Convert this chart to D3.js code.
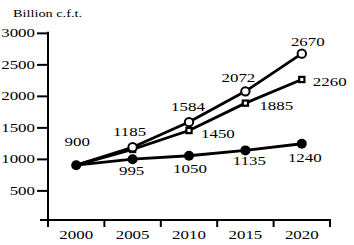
<!DOCTYPE html>
<html><head><meta charset="utf-8">
<script src="https://cdn.jsdelivr.net/npm/d3@7"></script>
<style>body{margin:0;background:#fff}svg{display:block}</style>
</head><body>
<svg id="c" width="354" height="245"></svg>
<script>
const years = [2000, 2005, 2010, 2015, 2020];
const seriesCircle = [900, 1185, 1584, 2072, 2670];
const seriesSquare = [900, 1150, 1450, 1885, 2260];
const seriesFilled = [900, 995, 1050, 1135, 1240];
const yTicks = [500, 1000, 1500, 2000, 2500, 3000];
const unitLabel = "Billion c.f.t.";

// label placement (layout only): [dx, dy, anchor], null = no label
const placeCircle = [[1,-19,"middle"],[-3,-11,"middle"],[-1,-11,"middle"],[-7,-9,"middle"],[6,-8,"middle"]];
const placeSquare = [null,null,[12,7,"start"],[14,7,"start"],[11,7,"start"]];
const placeFilled = [null,[-1,16,"middle"],[1,17,"middle"],[4,15,"middle"],[3,18,"middle"]];

const svg = d3.select("#c");
const FONT = "'Liberation Serif','Times New Roman',serif";
const SX = 1.3;

const x = d3.scaleBand().domain(years).range([48, 330]);
const y = d3.scaleLinear().domain([500, 3000]).range([190.4, 32.85]);
const cx = d => x(d) + x.bandwidth()/2;
const axisY = 220;

function stxt(g, tx, ty, str, size, anchor){
  g.append("text").attr("transform", `translate(${tx},${ty}) scale(${SX},1)`)
    .attr("text-anchor", anchor).attr("font-family", FONT).attr("font-size", size)
    .attr("fill", "#000").text(str);
}

// y axis
const ya = svg.append("g").attr("transform", "translate(48,0)")
  .call(d3.axisLeft(y).tickValues(yTicks).tickSize(11).tickFormat(() => ""));
ya.select(".domain").remove();
ya.selectAll("line").attr("stroke", "#000").attr("stroke-width", 2);
svg.append("line").attr("x1", 48).attr("x2", 48).attr("y1", y(3000)-1).attr("y2", axisY+7)
  .attr("stroke", "#000").attr("stroke-width", 2);
yTicks.forEach(v => stxt(svg, 35, y(v)+4.5, String(v), 13, "end"));

// x axis
svg.append("line").attr("x1", 40).attr("x2", x.range()[1]+1).attr("y1", axisY).attr("y2", axisY)
  .attr("stroke", "#000").attr("stroke-width", 2);
years.forEach(d => {
  const bx = x(d) + x.bandwidth();
  svg.append("line").attr("x1", bx).attr("x2", bx).attr("y1", axisY-1).attr("y2", axisY+7)
    .attr("stroke", "#000").attr("stroke-width", 2);
  stxt(svg, cx(d), 239, String(d), 13, "middle");
});

stxt(svg, 13, 17, unitLabel, 11, "start");

const line = d3.line().x((v,i) => cx(years[i])).y(v => y(v));
[seriesFilled, seriesSquare, seriesCircle].forEach(s => {
  svg.append("path").attr("d", line(s)).attr("fill", "none")
    .attr("stroke", "#000").attr("stroke-width", 2.8).attr("stroke-linejoin", "round");
});

// markers
seriesFilled.forEach((v,i) => svg.append("circle").attr("cx", cx(years[i])).attr("cy", y(v)).attr("r", 5).attr("fill", "#000"));
seriesSquare.forEach((v,i) => { if(i===0) return;
  svg.append("rect").attr("x", cx(years[i])-2.6).attr("y", y(v)-2.6).attr("width", 5.2).attr("height", 5.2)
    .attr("fill", "#fff").attr("stroke", "#000").attr("stroke-width", 2.2); });
seriesCircle.forEach((v,i) => { if(i===0) return;
  svg.append("circle").attr("cx", cx(years[i])).attr("cy", y(v)).attr("r", 4.2)
    .attr("fill", "#fff").attr("stroke", "#000").attr("stroke-width", 2); });

function labels(s, place){
  s.forEach((v,i) => { const p = place[i]; if(!p) return;
    stxt(svg, cx(years[i]) + p[0], y(v) + p[1], String(v), 13, p[2]); });
}
labels(seriesCircle, placeCircle);
labels(seriesSquare, placeSquare);
labels(seriesFilled, placeFilled);
</script>
</body></html>
